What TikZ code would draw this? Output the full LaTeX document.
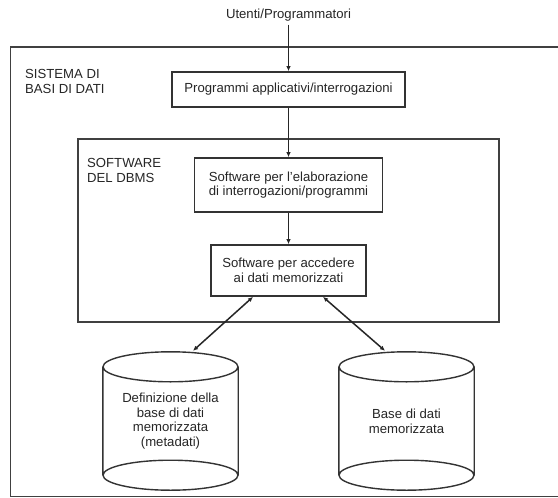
\documentclass[tikz,border=0pt]{standalone}
\usepackage{fontspec}
\setmainfont{Liberation Sans}
\usetikzlibrary{arrows.meta,calc}
\begin{document}
\begin{tikzpicture}[x=1bp,y=-1bp,
  every node/.style={font=\fontsize{13.2}{14.8}\selectfont, text=black!85},
  frame/.style={draw=black!75, line width=1.6bp},
  procbox/.style={draw=black!80, line width=1.7bp, align=center, inner sep=0},
  link/.style={draw=black!85, line width=1.5bp, -{Latex[length=5bp,width=4.5bp]}},
  dlink/.style={draw=black!85, line width=1.5bp,
    {Latex[length=5bp,width=4.5bp]}-{Latex[length=5bp,width=4.5bp]}},
  drum/.style={draw=black!80, line width=1.4bp},
  drumtext/.style={align=center, minimum width=135bp, minimum height=138bp, inner sep=0},
  lbl/.style={align=left, anchor=north west, inner sep=0}
]
\useasboundingbox (0,0) rectangle (558,498);
\fill[white] (0,0) rectangle (558,498);

% users at the top
\node (users) at (288.5,15) {Utenti/Programmatori};

% outer system frame (open to the right)
\draw[frame] (570,47) -- (10.5,47) -- (10.5,496.5) -- (570,496.5);
\node[lbl] (syslbl) at (25,69.3) {SISTEMA DI\\BASI DI DATI};

% application programs
\node[procbox, minimum width=233bp, minimum height=35bp] (apps) at (288.5,89.5)
  {Programmi applicativi/interrogazioni};

% DBMS software frame
\node[frame, minimum width=421bp, minimum height=183bp, inner sep=0] (dbms) at (288.5,230.5) {};
\node[lbl] (dbmslbl) at (87,158.3) {SOFTWARE\\DEL DBMS};

\node[procbox, minimum width=188bp, minimum height=54bp] (elab) at (288.5,185)
  {Software per l'elaborazione\\di interrogazioni/programmi};
\node[procbox, minimum width=155bp, minimum height=51bp] (acc) at (288.5,270.5)
  {Software per accedere\\ai dati memorizzati};

% stored data
\node[drumtext] (meta) at (170.5,421)
  {Definizione della\\base di dati\\memorizzata\\(metadati)};
\node[drumtext] (store) at (406.5,421) {Base di dati\\memorizzata};

\foreach \c in {meta,store} {
  \draw[drum] ($(\c.north)+(0,15)$) ellipse [x radius=67.5bp, y radius=15bp]
              ($(\c.south)+(0,-15)$) ellipse [x radius=67.5bp, y radius=15bp]
              ($(\c.north west)+(0,15)$) -- ($(\c.south west)+(0,-15)$)
              ($(\c.north east)+(0,15)$) -- ($(\c.south east)+(0,-15)$);
}

% connectors
\draw[link] (users.south) -- (apps.north);
\draw[link] (apps.south) -- (elab.north);
\draw[link] (elab.south) -- (acc.north);
\draw[dlink] ($(acc.south)+(-35.5,0)$) -- ($(meta.north)+(22.5,-1)$);
\draw[dlink] ($(acc.south)+(34.5,0)$) -- ($(store.north)+(-21.5,-1)$);
\end{tikzpicture}
\end{document}
